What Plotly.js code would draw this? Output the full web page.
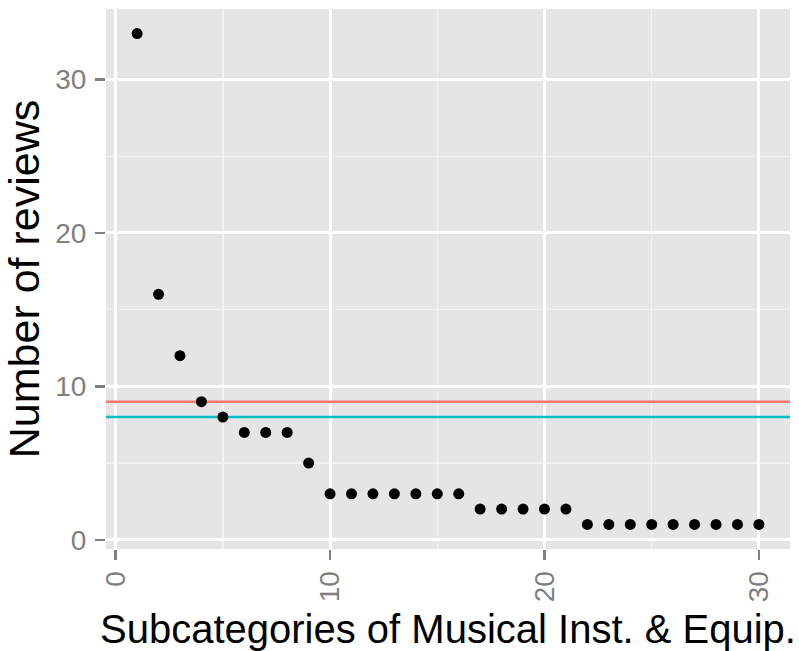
<!DOCTYPE html>
<html>
<head>
<meta charset="utf-8">
<script src="https://cdn.plot.ly/plotly-3.0.1.min.js"></script>
<style>
  html, body { margin: 0; padding: 0; background: #ffffff; }
  #chart { width: 799px; height: 651px; }
</style>
</head>
<body>
<div id="chart"></div>
<script>
// Subcategory rank (1..30) and the number of reviews in each
const subcategories = [1, 2, 3, 4, 5, 6, 7, 8, 9, 10, 11, 12, 13, 14, 15,
                       16, 17, 18, 19, 20, 21, 22, 23, 24, 25, 26, 27, 28, 29, 30];
const reviews = [33, 16, 12, 9, 8, 7, 7, 7, 5, 3, 3, 3, 3, 3, 3,
                 3, 2, 2, 2, 2, 2, 1, 1, 1, 1, 1, 1, 1, 1, 1];

// Horizontal reference levels
const refLevels = [9, 8];
const refColors = ['#F8766D', '#00BFC4'];

// Axis ticks
const majorTicks = [0, 10, 20, 30];
const majorTickText = ['0', '10', '20', '30'];
const minorTicks = [5, 15, 25];

const xLo = -0.45, xHi = 31.45;

const traces = refLevels.map((lvl, i) => ({
  type: 'scatter',
  mode: 'lines',
  x: [xLo, xHi],
  y: [lvl, lvl],
  line: { color: refColors[i], width: 2.5 },
  hoverinfo: 'skip',
  showlegend: false
}));

traces.push({
  type: 'scatter',
  mode: 'markers',
  x: subcategories,
  y: reviews,
  marker: { color: '#000000', size: 11, line: { width: 0 } },
  showlegend: false
});

const gray = '#7F7F7F';
const axisCommon = {
  tickvals: majorTicks,
  ticktext: majorTickText,
  ticks: 'outside',
  ticklen: 10,
  tickwidth: 2.5,
  tickcolor: gray,
  tickfont: { size: 28, color: gray },
  showgrid: true,
  gridcolor: '#FFFFFF',
  gridwidth: 3,
  minor: { tickvals: minorTicks, showgrid: true, gridcolor: '#F2F2F2', gridwidth: 1.5, ticks: '' },
  zeroline: false,
  showline: false,
  fixedrange: true
};

const layout = {
  width: 799,
  height: 651,
  margin: { l: 106, r: 9, t: 9, b: 102 },
  paper_bgcolor: '#FFFFFF',
  plot_bgcolor: '#E5E5E5',
  font: { family: '"Liberation Sans", Arial, sans-serif', color: '#000000' },
  showlegend: false,
  xaxis: Object.assign({}, axisCommon, {
    range: [xLo, xHi],
    tickangle: -90,
    ticklabelstandoff: 0,
    title: { text: 'Subcategories of Musical Inst. & Equip.', font: { size: 40, color: '#000000' }, standoff: 13 }
  }),
  yaxis: Object.assign({}, axisCommon, {
    range: [-0.6, 34.6],
    ticklabelstandoff: 3,
    title: { text: 'Number of reviews', font: { size: 43, color: '#000000' }, standoff: 8 }
  })
};

Plotly.newPlot('chart', traces, layout, { displayModeBar: false, staticPlot: true });
</script>
</body>
</html>
